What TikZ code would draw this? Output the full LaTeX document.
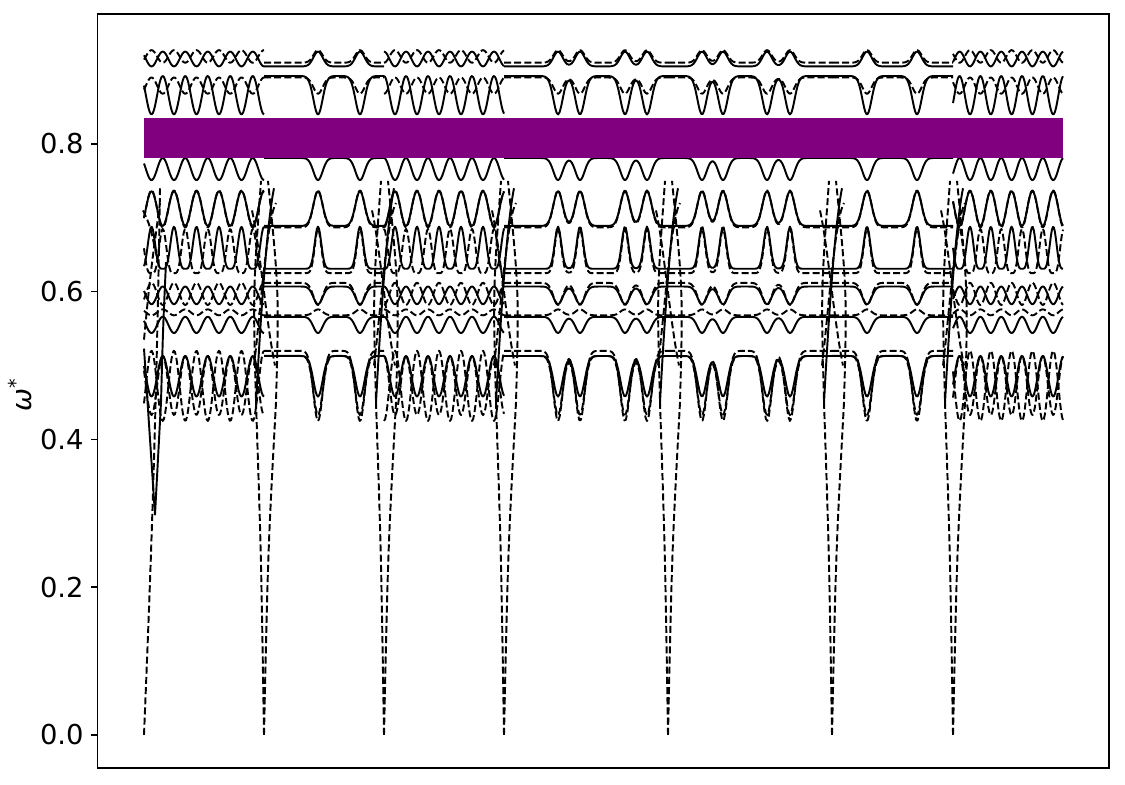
\documentclass[tikz,border=0pt]{standalone}
\usepackage{fontspec}
\newfontfamily\tickfont{DejaVu Sans}
\definecolor{gappurple}{RGB}{128,0,128}

\tikzset{
  band/.style={line width=1.1pt, line join=round},
  dband/.style={band, dash pattern=on 4pt off 1.8pt},
  axisline/.style={line width=0.9pt},
  ticklabel/.style={anchor=east, inner sep=0pt, font=\tickfont\fontsize{15.6}{18}\selectfont},
}

\begin{document}
\begin{tikzpicture}
  [x=0.02cm,y=14.775cm,
   declare function={cw(\t,\m,\q)=(1+cos(360*((\t-\m)/\q)))/2;
                     dp(\t,\m)=exp(-(min(abs(\t-\m),18)/6.5)^2);}]
  \useasboundingbox (0,-0.0677) rectangle (1125,0.9949);

  % bands, one piece of the k path at a time
  \foreach \a/\b/\F/\G in {
      144/264/{cw(\x,174,22.5)}/{cw(\x,185.25,22.5)},
      264/384/{dp(\x,318)+dp(\x,360)}/{dp(\x,318)+dp(\x,360)},
      384/504/{cw(\x,417,22)}/{cw(\x,428,22)},
      504/668/{dp(\x,558)+dp(\x,580)+dp(\x,625)+dp(\x,647)}/{dp(\x,558)+dp(\x,580)+dp(\x,625)+dp(\x,647)},
      668/832/{dp(\x,702)+dp(\x,723)+dp(\x,767)+dp(\x,790)}/{dp(\x,702)+dp(\x,723)+dp(\x,767)+dp(\x,790)},
      832/953/{dp(\x,867)+dp(\x,917)}/{dp(\x,867)+dp(\x,917)},
      953/1063/{cw(\x,970,20.8)}/{cw(\x,980.4,20.8)}}
  {
    \foreach \L/\A/\k/\p in {0.905/0.02/1/1, 0.892/-0.052/0/1, 0.781/-0.03/0/1,
        0.689/0.047/0/1, 0.631/0.057/0/2, 0.607/-0.024/0/1, 0.566/-0.022/0/1, 0.513/-0.055/0/1}
      \draw[band] plot[domain=\a:\b,samples=110] (\x,{\L+\A*((1-\k)*(\F)+\k*(\G))^\p});
    \foreach \L/\A/\k/\p in {0.910/0.017/0/1, 0.890/-0.022/1/1, 0.687/0.05/0/1,
        0.625/0.06/1/2, 0.612/-0.03/1/1, 0.568/0.008/1/1, 0.513/-0.08/0/1, 0.52/-0.095/1/1}
      \draw[dband] plot[domain=\a:\b,samples=110] (\x,{\L+\A*((1-\k)*(\F)+\k*(\G))^\p});
  }

  % acoustic branches down to zero, and the tangle at each corner point
  \foreach \X in {264,384,504,668,832,953}
  {
    \draw[dband] (\X,0) .. controls (\X-3,0.25) .. (\X-8,0.45) .. controls (\X-11,0.6) .. (\X-3,0.75);
    \draw[dband] (\X,0) .. controls (\X+4,0.25) .. (\X+12,0.45) .. controls (\X+15,0.6) .. (\X+4,0.75);
    \draw[band] (\X-8,0.45) .. controls (\X-2,0.6) and (\X+4,0.7) .. (\X+10,0.74);
    \draw[dband] (\X-12,0.71) .. controls (\X-4,0.66) and (\X+2,0.56) .. (\X+11,0.5);
    \draw[dband] (\X-10,0.5) .. controls (\X-3,0.58) and (\X+3,0.7) .. (\X+12,0.72);
  }
  \draw[dband] (144,0) .. controls (150,0.2) and (156,0.4) .. (160,0.74);
  \draw[band] (144,0.523) -- (155,0.298) -- (161,0.45) .. controls (163,0.55) .. (166,0.64);
  \draw[dband] (144,0.535) .. controls (150,0.62) .. (160,0.72);
  \draw[dband] (143,0.71) .. controls (150,0.69) .. (158,0.64);

  % band gap
  \fill[gappurple] (144,0.781) rectangle (1063,0.835);

  % axes
  \draw[axisline] (97.5,-0.0447) rectangle (1109,0.976);
  \foreach \v [count=\i] in {0.0,0.2,0.4,0.6,0.8}
  {
    \draw[axisline] (91,\v) -- (97.5,\v);
    \node[ticklabel] (tick\i) at (84,\v) {\v};
  }
  \node[rotate=90, font=\tickfont\fontsize{15.6}{18}\selectfont] (omega) at (20,0.46) {\itshape ω\textsuperscript{\upshape *}};
\end{tikzpicture}
\end{document}
